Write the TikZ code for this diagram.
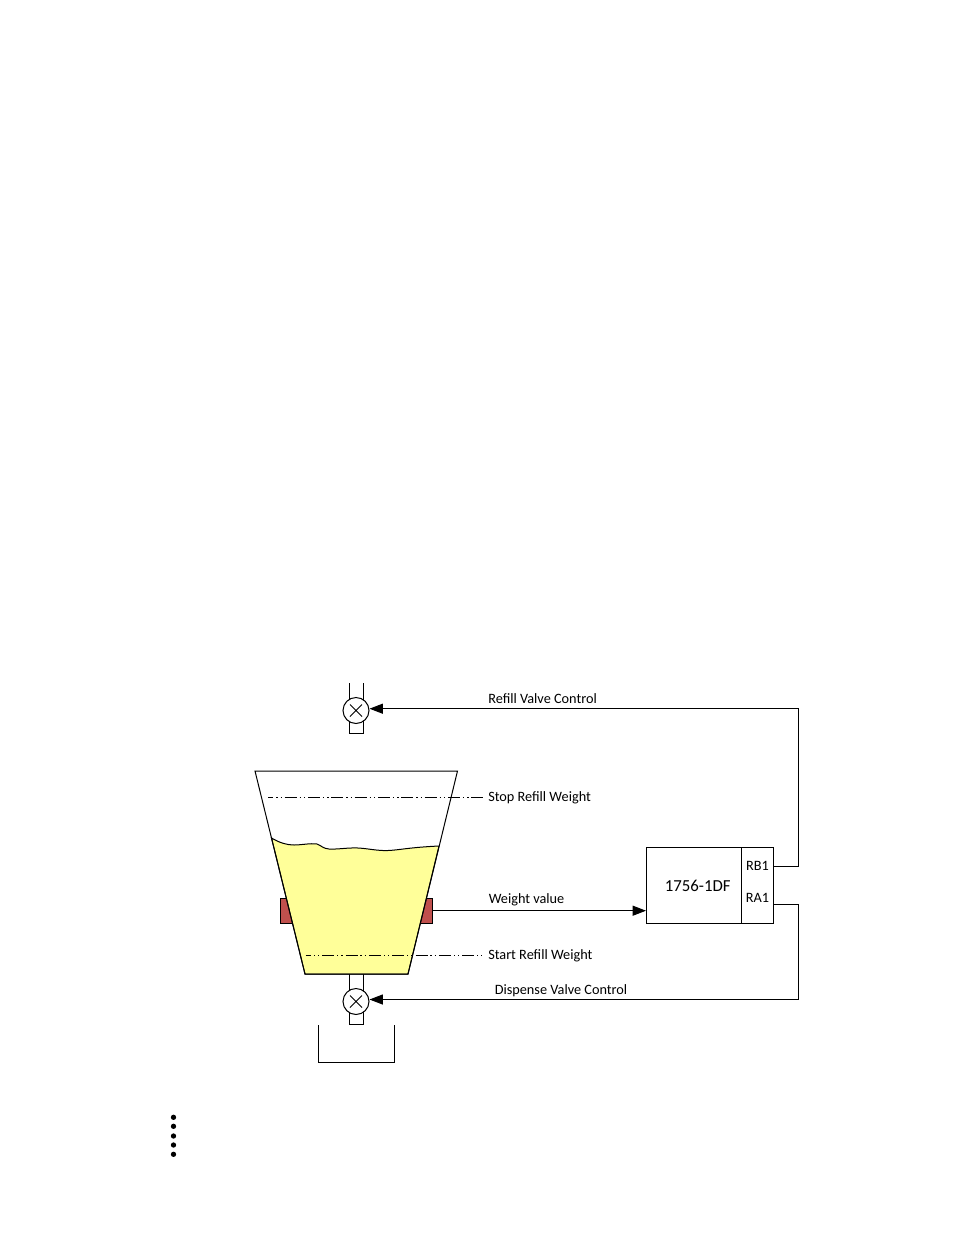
\documentclass[tikz,border=0pt]{standalone}
\usepackage{fontspec}
\setmainfont{Carlito}
\usetikzlibrary{arrows.meta}
\definecolor{cellred}{HTML}{C0504D}
\definecolor{liquid}{HTML}{FFFF99}
\tikzset{thin line/.style = {line width = 0.75pt},
         valve/.style = {circle, draw, thin line, fill = white, minimum size = 19.5pt, inner sep = 0pt,
                         path picture = {\draw[thin line] (path picture bounding box.north west)
                                           ++(5.25pt,-5.25pt) -- ++(9pt,-9pt)
                                           ++(-9pt,0pt) -- ++(9pt,9pt);}},
         level line/.style = {thin line, dash pattern = on 9pt off 2.2pt on 1pt off 2.2pt on 1pt off 2.1pt, dash phase = 5pt},
         load cell/.style = {draw, thin line, fill = cellred, minimum width = 12pt, minimum height = 19pt, inner sep = 0pt},
         caption/.style = {font = \fontsize{10.7}{12}\selectfont, inner sep = 0pt},
         signal/.style = {thin line, -{Triangle[length = 10pt, width = 7.5pt]}}
        }

\begin{document}
\begin{tikzpicture}[x = 0.75pt, y = -0.75pt]
  \useasboundingbox (0,0) rectangle (954,1235);
  % pipes
  \draw[thin line] (349.5,683) -- (349.5,733.5) -- (363.5,733.5) -- (363.5,683);
  \draw[thin line] (349.5,974) -- (349.5,1024.5) -- (363.5,1024.5) -- (363.5,974);
  \node (refillvalve) [valve] at (356,710.5) {};
  \node (dispensevalve) [valve] at (356,1001.5) {};
  % load cells
  \node (cellleft) [load cell] at (288,910.7) {};
  \node (cellright) [load cell] at (424.5,910.7) {};
  % tank
  \fill[white] (255,771) -- (457.5,771) -- (408,974) -- (305,974) -- cycle;
  \draw[thin line, fill = liquid] (271.5,838)
    .. controls (280,843) and (287,845) .. (294,845)
    .. controls (302,845) and (310,843) .. (317,844)
    .. controls (322,846) and (323,848.5) .. (329,849)
    .. controls (338,849.5) and (348,847.5) .. (358,848)
    .. controls (368,848.5) and (378,851) .. (388,850.5)
    .. controls (400,850) and (408,847.5) .. (439,846)
    -- (408,974) -- (305,974) -- cycle;
  \draw[thin line] (255,771) -- (457.5,771) -- (408,974) -- (305,974) -- cycle;
  % levels
  \coordinate (stopstart) at (268,797);
  \coordinate (startstart) at (305.5,955.5);
  \node (stoplabel) [caption, anchor = west] at (488,798) {Stop Refill Weight};
  \node (startlabel) [caption, anchor = west] at (488,956) {Start Refill Weight};
  \draw[level line] (stopstart) -- (484,797);
  \draw[level line] (startstart) -- (482,955.5);
  % controller
  \node (dfbody) [draw, thin line, minimum width = 71.6pt, minimum height = 57pt, inner sep = 0pt] at (693.75,885) {};
  \node (dfports) [draw, thin line, minimum width = 24pt, minimum height = 57pt, inner sep = 0pt] at (757.5,885) {};
  \node (dflabel) [inner sep = 0pt, font = \fontsize{12.6}{14}\selectfont] at (697.7,885.5) {1756-1DF};
  \node (rbone) [caption] at (757.5,866) {RB1};
  \node (raone) [caption] at (757.5,898) {RA1};
  % signals
  \coordinate (rbout) at (773.5,866);
  \coordinate (raout) at (773.5,904.5);
  \coordinate (rbcorner) at (798.5,866);
  \coordinate (racorner) at (798.5,904.5);
  \coordinate (refilltip) at (369.5,708.7);
  \coordinate (dispensetip) at (369.5,999.5);
  \coordinate (weightin) at (646,910.7);
  \draw[signal] (rbout) -- (rbcorner) |- (refilltip);
  \draw[signal] (raout) -- (racorner) |- (dispensetip);
  \draw[signal] (cellright.east) -- (weightin);
  \node (refilllabel) [caption, anchor = west] at (488,699) {Refill Valve Control};
  \node (weightlabel) [caption, anchor = west] at (488.5,900) {Weight value};
  \node (dispenselabel) [caption, anchor = west] at (494.5,990.5) {Dispense Valve Control};
  % bin
  \draw[thin line] (318.5,1025) -- (318.5,1062.5) -- (394.5,1062.5) -- (394.5,1025);
  % dots
  \foreach \name/\ypos in {a/1117.3,b/1126.3,c/1136,d/1145,e/1154.3}
    \node (dot\name) [circle, fill, minimum size = 4pt, inner sep = 0pt] at (173.5,\ypos) {};
\end{tikzpicture}
\end{document}
